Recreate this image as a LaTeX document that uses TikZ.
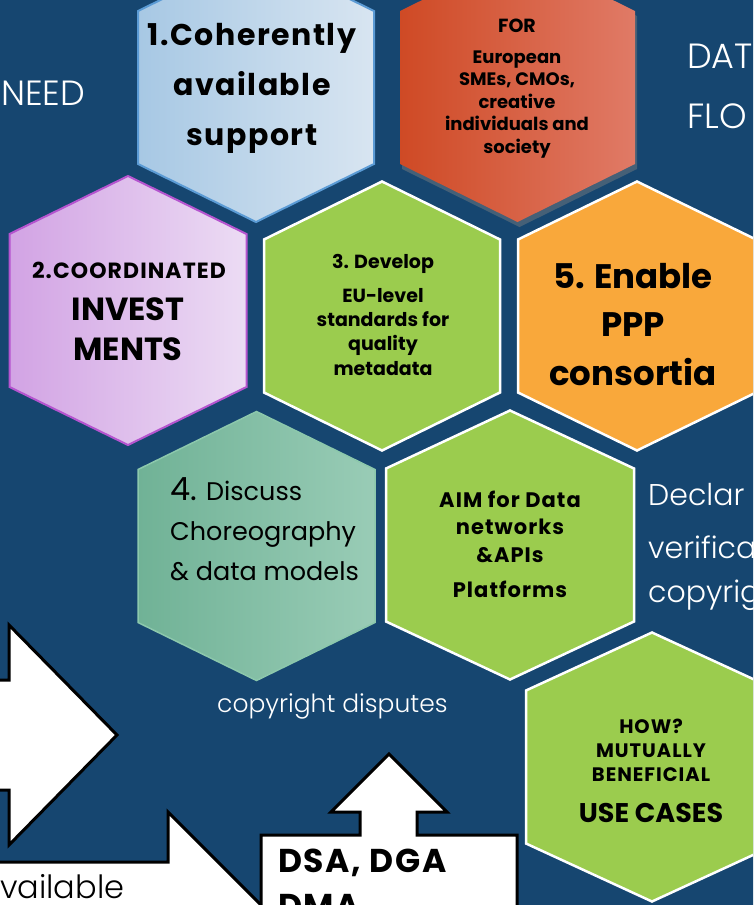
\documentclass[tikz,border=0pt]{standalone}
\usepackage{fontspec}
\setmainfont{Poppins}
\newfontfamily\widefont{Poppins}[LetterSpace=5]
\newfontfamily\thinfont{Poppins Light}
\usetikzlibrary{shadows}

\definecolor{slideblue}{RGB}{22,70,112}
\definecolor{leafgreen}{RGB}{155,204,78}
\definecolor{sunorange}{RGB}{249,168,59}
\definecolor{skyleft}{RGB}{167,200,228}
\definecolor{skyright}{RGB}{216,229,241}
\definecolor{skyline}{RGB}{91,155,213}
\definecolor{brickleft}{RGB}{207,74,37}
\definecolor{brickright}{RGB}{224,122,102}
\definecolor{lilacleft}{RGB}{210,163,228}
\definecolor{lilacright}{RGB}{236,220,244}
\definecolor{lilacline}{RGB}{181,84,207}
\definecolor{tealleft}{RGB}{112,178,150}
\definecolor{tealright}{RGB}{153,204,182}
\definecolor{tealline}{RGB}{140,200,172}

\newcommand{\fsz}[2]{\fontsize{#1}{#2}\selectfont}
% hexagon with flat sides left and right: style, name, x, y, half width
\newcommand{\hexcell}[5]{%
  \coordinate (#2) at (#3,#4);
  \path[#1] (#2) ++(0,-134.5) -- ++(#5,58) -- ++(0,153) -- ++(-#5,58)
    -- ++(-#5,-58) -- ++(0,-153) -- cycle;}

\tikzset{
  hexgreen/.style={fill=leafgreen, draw=white, line width=2.5pt},
  hexorange/.style={fill=sunorange, draw=white, line width=2.5pt},
  hexblue/.style={left color=skyleft, right color=skyright, draw=skyline, line width=2pt},
  hexbrick/.style={left color=brickleft, right color=brickright,
    drop shadow={shadow xshift=2pt, shadow yshift=-5pt, opacity=0.45}},
  hexlilac/.style={left color=lilacleft, right color=lilacright, draw=lilacline, line width=2pt},
  hexteal/.style={left color=tealleft, right color=tealright, draw=tealline, line width=1.5pt},
  arrowshape/.style={fill=white, draw=black, line width=3pt, line join=miter},
  hextext/.style={inner sep=0pt, align=center, anchor=base, font=\bfseries},
  slidetext/.style={inner sep=0pt, anchor=base west, text=white, font=\thinfont},
}

\begin{document}
\begin{tikzpicture}[x=1pt,y=-1pt]
  % Background of the slide
  \useasboundingbox (0,0) rectangle (753,905);
  \clip (0,0) rectangle (753,905);
  \fill[slideblue] (-5,-5) rectangle (760,910);

  % Hexagons
  \hexcell{hexblue}{support}{256}{87.5}{118}
  \hexcell{hexbrick}{for}{517.5}{87.5}{117.5}
  \hexcell{hexlilac}{invest}{128}{310.5}{118.5}
  \hexcell{hexgreen}{develop}{382}{316}{118}
  \hexcell{hexorange}{enable}{637}{316}{119}
  \hexcell{hexteal}{discuss}{256.5}{546}{118.5}
  \hexcell{hexgreen}{aim}{510}{545}{124}
  \hexcell{hexgreen}{usecases}{652}{767}{126}

  % Texts in the hexagons (base = last line)
  \node[hextext, font=\widefont\bfseries\fsz{30}{50}] (supporttext) at (252,145) {1.Coherently\\available\\support};
  \node[hextext, font=\bfseries\fsz{19}{22}] (forhead) at (517,32) {FOR};
  \node[hextext, font=\bfseries\fsz{18}{22.5}] (fortext) at (517,153) {European\\SMEs, CMOs,\\creative\\individuals and\\society};
  \node[hextext, font=\widefont\bfseries\fsz{22}{40}] (investhead) at (129,278) {2.COORDINATED};
  \node[hextext, font=\bfseries\fsz{32}{40}] (investtext) at (128,360) {INVEST\\MENTS};
  \node[hextext, font=\bfseries\fsz{19}{24}] (develophead) at (383,268) {3. Develop};
  \node[hextext, font=\bfseries\fsz{19}{24.3}] (developtext) at (383,375) {EU-level\\standards for\\quality\\metadata};
  \node[hextext, font=\bfseries\fsz{34}{48.5}] (enabletext) at (633,385) {5. Enable\\PPP\\consortia};
  \node[hextext, align=left, anchor=base west, font=\fsz{25.5}{40}] (discusstext) at (170,580)
    {{\fsz{32}{40}4.} Discuss\\Choreography\\\& data models};
  \node[hextext, font=\widefont\bfseries\fsz{21}{27.5}] (aimtext) at (510,562) {AIM for Data\\networks\\\&APIs};
  \node[hextext, font=\widefont\bfseries\fsz{21}{27.5}] (platforms) at (510,597) {Platforms};
  \node[hextext, font=\widefont\bfseries\fsz{19.5}{24}] (howtext) at (651,781) {HOW?\\MUTUALLY\\BENEFICIAL};
  \node[hextext, font=\bfseries\fsz{27}{30}] (usecasestext) at (651,822) {USE CASES};

  % Texts on the slide
  \node[slidetext, font=\thinfont\fsz{35}{40}] (need) at (1,105) {NEED};
  \node[slidetext, font=\thinfont\fsz{35}{60}] (data) at (687,68) {DAT};
  \node[slidetext, font=\thinfont\fsz{35}{60}] (flow) at (687,128) {FLO};
  \node[slidetext, font=\thinfont\fsz{30}{40}] (declar) at (648,505) {Declar};
  \node[slidetext, font=\thinfont\fsz{30}{44}, align=left] (verif) at (648,602) {verifica\\copyrig};
  \node[slidetext, font=\thinfont\fsz{25}{30}] (disputes) at (217,712) {copyright disputes};

  % Arrows at the bottom left
  \draw[arrowshape] (-10,680) -- (9,680) -- (9,625) -- (117,735) -- (9,845) -- (9,790) -- (-10,790) -- cycle;
  \draw[arrowshape] (-10,862) -- (168,862) -- (168,812) -- (278,922) -- (168,1032) -- (168,982) -- (-10,982) -- cycle;
  \node[slidetext, text=black, font=\thinfont\fsz{32}{40}] (vailable) at (0,898) {vailable};
  % Box with its arrow up
  \draw[arrowshape] (261,940) -- (261,835) -- (360,835) -- (360,812) -- (331,812) -- (389,754)
    -- (447,812) -- (417,812) -- (417,835) -- (517,835) -- (517,940) -- cycle;
  \node[hextext, align=left, anchor=base west, font=\widefont\bfseries\fsz{33}{45}] (dsa) at (278,917) {DSA, DGA\\DMA};
\end{tikzpicture}
\end{document}
